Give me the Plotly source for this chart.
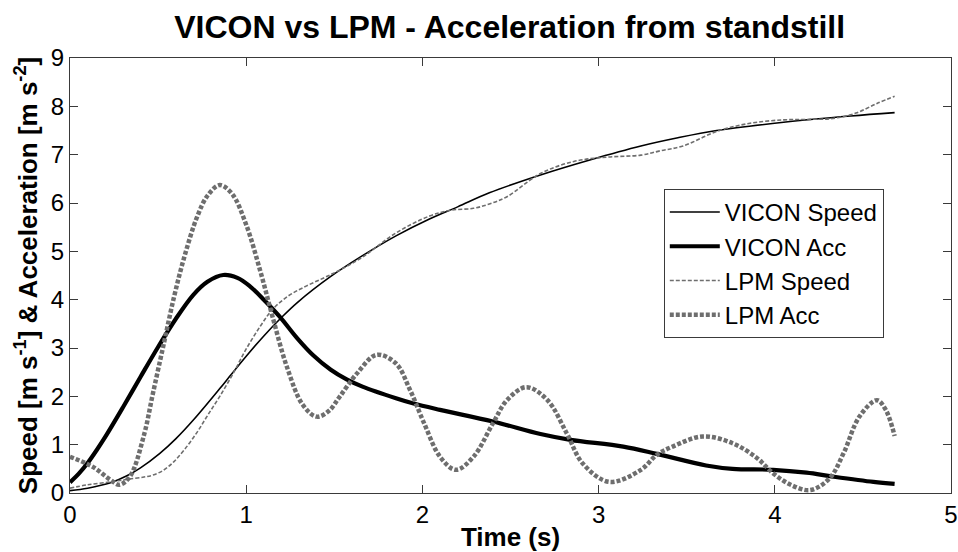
import plotly.graph_objects as go

# ---- data ----
vicon_speed_t = [0, 0.1, 0.23, 0.32, 0.4, 0.51, 0.6, 0.7, 0.85, 0.91, 1.0, 1.10, 1.2, 1.29,
                 1.48, 1.66, 1.85, 2.04, 2.2, 2.38, 2.67, 2.95, 3.24, 3.45, 3.67, 4.05, 4.43, 4.68]
vicon_speed = [0.05, 0.1, 0.21, 0.35, 0.52, 0.82, 1.12, 1.51, 2.16, 2.43, 2.83, 3.25, 3.63, 3.94,
               4.48, 4.91, 5.32, 5.67, 5.92, 6.21, 6.58, 6.89, 7.18, 7.35, 7.5, 7.67, 7.8, 7.87]

vicon_acc_t = [0, 0.05, 0.1, 0.15, 0.2, 0.3, 0.4, 0.5, 0.6, 0.7, 0.78, 0.87, 0.95, 1.02, 1.10,
               1.19, 1.29, 1.38, 1.48, 1.57, 1.66, 1.85, 1.95, 2.10, 2.40, 2.67, 2.84, 3.14,
               3.33, 3.61, 3.76, 3.99, 4.18, 4.33, 4.56, 4.68]
vicon_acc = [0.22, 0.4, 0.62, 0.88, 1.16, 1.77, 2.4, 3.02, 3.6, 4.1, 4.37, 4.51, 4.45, 4.28, 4.0,
             3.65, 3.2, 2.85, 2.55, 2.35, 2.2, 1.96, 1.85, 1.72, 1.48, 1.22, 1.10, 0.96,
             0.81, 0.57, 0.5, 0.48, 0.42, 0.34, 0.23, 0.19]

lpm_speed_t = [0, 0.1, 0.23, 0.32, 0.42, 0.47, 0.53, 0.59, 0.65, 0.72, 0.78, 0.85, 0.93, 1.0,
               1.08, 1.15, 1.24, 1.34, 1.44, 1.53, 1.66, 1.85, 2.04, 2.16, 2.29, 2.38, 2.48,
               2.67, 2.86, 3.05, 3.24, 3.35, 3.48, 3.67, 3.86, 4.05, 4.2, 4.33, 4.46, 4.58, 4.68]
lpm_speed = [0.1, 0.17, 0.23, 0.28, 0.33, 0.37, 0.47, 0.65, 0.9, 1.25, 1.6, 2.0, 2.5, 2.98,
             3.45, 3.8, 4.08, 4.28, 4.45, 4.61, 4.88, 5.38, 5.73, 5.85, 5.89, 5.98, 6.13,
             6.61, 6.86, 6.95, 6.99, 7.08, 7.18, 7.48, 7.65, 7.72, 7.73, 7.75, 7.86, 8.06, 8.21]

lpm_acc_t = [0, 0.13, 0.23, 0.28, 0.34, 0.42, 0.47, 0.53, 0.59, 0.65, 0.72, 0.78, 0.85, 0.92,
             1.0, 1.08, 1.15, 1.23, 1.32, 1.40, 1.47, 1.53, 1.63, 1.74, 1.85, 1.93, 2.01,
             2.10, 2.19, 2.29, 2.40, 2.48, 2.59, 2.71, 2.82, 2.91, 3.06, 3.24, 3.33, 3.42,
             3.59, 3.76, 3.90, 3.99, 4.09, 4.20, 4.31, 4.39, 4.48, 4.58, 4.63, 4.68]
lpm_acc = [0.75, 0.54, 0.27, 0.17, 0.34, 1.2, 2.05, 3.05, 4.05, 4.9, 5.7, 6.15, 6.37, 6.19,
           5.55, 4.59, 3.64, 2.62, 1.83, 1.58, 1.7, 1.99, 2.48, 2.86, 2.68, 2.13, 1.44,
           0.75, 0.48, 0.75, 1.44, 1.92, 2.19, 1.92, 1.23, 0.61, 0.23, 0.48, 0.79, 0.96,
           1.17, 1.03, 0.72, 0.41, 0.17, 0.06, 0.3, 0.82, 1.58, 1.92, 1.72, 1.18]

x_ticks = [0, 1, 2, 3, 4, 5]
y_ticks = [0, 1, 2, 3, 4, 5, 6, 7, 8, 9]

FONT = "Liberation Sans, Arial, sans-serif"
GRAY = "#6e6e6e"

fig = go.Figure()
fig.add_trace(go.Scatter(x=vicon_speed_t, y=vicon_speed, mode="lines", name="VICON Speed",
                         line=dict(color="black", width=1.6, shape="spline", smoothing=1)))
fig.add_trace(go.Scatter(x=vicon_acc_t, y=vicon_acc, mode="lines", name="VICON Acc",
                         line=dict(color="black", width=4.2, shape="spline", smoothing=1)))
fig.add_trace(go.Scatter(x=lpm_speed_t, y=lpm_speed, mode="lines", name="LPM Speed",
                         line=dict(color=GRAY, width=1.6, dash="4px,2px", shape="spline", smoothing=1)))
fig.add_trace(go.Scatter(x=lpm_acc_t, y=lpm_acc, mode="lines", name="LPM Acc",
                         line=dict(color=GRAY, width=4.5, dash="4px,2px", shape="spline", smoothing=1)))

axis_common = dict(showline=True, linecolor="#3a3a3a", linewidth=1, mirror="ticks",
                   ticks="inside", ticklen=8, tickcolor="#3a3a3a", showgrid=False,
                   zeroline=False, automargin=False,
                   tickfont=dict(family=FONT, size=24, color="black"))

fig.update_layout(
    width=958, height=552,
    margin=dict(l=70, r=7, t=58, b=59),
    paper_bgcolor="white", plot_bgcolor="white",
    font=dict(family=FONT, color="black"),
    title=dict(text="<b>VICON vs LPM - Acceleration from standstill</b>",
               x=0.532, xanchor="center", y=0.952, yanchor="middle", yref="container",
               font=dict(family=FONT, size=32, color="black"), automargin=False),
    xaxis=dict(range=[0, 5], tickvals=x_ticks, ticktext=[str(v) for v in x_ticks],
               title=dict(text="<b>Time (s)</b>", font=dict(family=FONT, size=26), standoff=2),
               **axis_common),
    yaxis=dict(range=[0, 9], tickvals=y_ticks, ticktext=[str(v) for v in y_ticks],
               title=dict(text="<b>Speed [m s<sup>-1</sup>] &amp; Acceleration [m s<sup>-2</sup>]</b>",
                          font=dict(family=FONT, size=26), standoff=5),
               **axis_common),
    legend=dict(x=0.674, y=0.699, xanchor="left", yanchor="top",
                bgcolor="white", bordercolor="#3a3a3a", borderwidth=1,
                font=dict(family=FONT, size=24, color="black"),
                tracegroupgap=0, itemwidth=50),
    showlegend=True,
)

fig.write_html("out.html")
